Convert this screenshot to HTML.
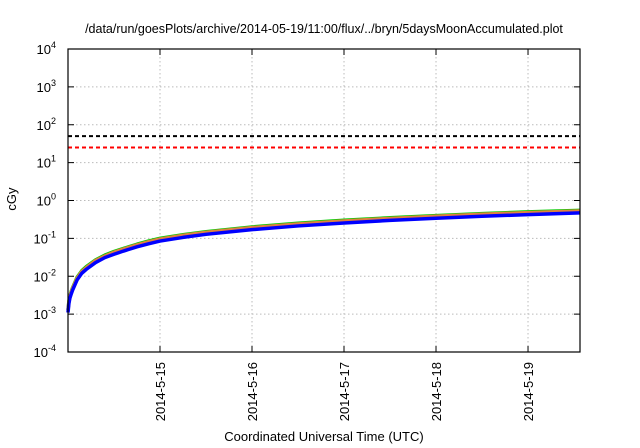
<!DOCTYPE html>
<html><head><meta charset="utf-8"><style>
body{margin:0;background:#fff;}
svg{display:block;font-family:"Liberation Sans",sans-serif;}
</style></head><body>
<svg id="chart" width="640" height="448" xmlns="http://www.w3.org/2000/svg">
<text x="324" y="33" font-size="12.5" text-anchor="middle">/data/run/goesPlots/archive/2014-05-19/11:00/flux/../bryn/5daysMoonAccumulated.plot</text>
<text transform="translate(16,199) rotate(-90)" font-size="13" text-anchor="middle">cGy</text>
<text x="324" y="441" font-size="13" text-anchor="middle">Coordinated Universal Time (UTC)</text>
<g id="grid"></g><g id="ticks"></g><g id="series"></g>
<rect x="68" y="49" width="512" height="303" fill="none" stroke="#000" stroke-width="1.2"/>
</svg>
<script>
const dayLabels=["2014-5-15","2014-5-16","2014-5-17","2014-5-18","2014-5-19"];
const dayPositions=[1,2,3,4,5];
const yExps=[-4,-3,-2,-1,0,1,2,3,4];
const times=[0,0.01,0.02,0.035,0.05,0.1,0.15,0.2,0.3,0.4,0.5,0.6,0.75,0.875,1,1.25,1.5,2,2.5,3,3.5,4,4.5,5,5.565];
const greenVals=[0.0013,0.0022,0.003,0.004,0.005,0.0095,0.014,0.018,0.027,0.036,0.045,0.054,0.07,0.085,0.1,0.125,0.15,0.2,0.25,0.3,0.35,0.4,0.45,0.5,0.55];
const orangeVals=[0.00125,0.0021,0.0029,0.0038,0.0048,0.009,0.0133,0.017,0.026,0.034,0.043,0.052,0.067,0.081,0.096,0.12,0.144,0.192,0.24,0.288,0.336,0.384,0.432,0.48,0.53];
const blueVals=[0.0011,0.0019,0.0026,0.0034,0.0043,0.0081,0.012,0.0153,0.023,0.031,0.038,0.046,0.06,0.072,0.085,0.106,0.128,0.17,0.213,0.255,0.298,0.34,0.383,0.425,0.47];
const thresholds=[50,25];
const X0=68,X1=580,Y0=49,Y1=352,TMAX=5.565;
const xs=t=>X0+(X1-X0)*t/TMAX;
const ys=v=>Y0+(4-Math.log10(v))*(Y1-Y0)/8;
const NS="http://www.w3.org/2000/svg";
function mk(tag,attrs,parent){const e=document.createElementNS(NS,tag);for(const k in attrs)e.setAttribute(k,attrs[k]);parent.appendChild(e);return e;}
const grid=document.getElementById('grid'),ticks=document.getElementById('ticks'),ser=document.getElementById('series');
yExps.forEach(p=>{const y=ys(Math.pow(10,p));
 if(p>-4&&p<4){const g=mk('line',{x1:X0,x2:X1,y1:y,y2:y,stroke:'#bbb','stroke-dasharray':'1.5,2.5','stroke-width':1},grid);
 
 }
 const t1=mk('line',{x1:X0,x2:X0+6,y1:y,y2:y,stroke:'#000'},ticks);
 
 
 const t2=mk('line',{x1:X1-6,x2:X1,y1:y,y2:y,stroke:'#000'},ticks);
 
 
 const tx=mk('text',{x:X0-12,y:y+5,'font-size':13,'text-anchor':'end'},ticks);
 
 
 tx.innerHTML='10<tspan dy="-6" font-size="9">'+p+'</tspan>';
});
dayPositions.forEach((d,i)=>{const x=xs(d);
 const g=mk('line',{x1:x,x2:x,y1:Y0,y2:Y1,stroke:'#bbb','stroke-dasharray':'1.5,2.5'},grid);
 
 
 const t=mk('line',{x1:x,x2:x,y1:Y1-6,y2:Y1,stroke:'#000'},ticks);
 
 
 const t2=mk('line',{x1:x,x2:x,y1:Y0,y2:Y0+6,stroke:'#000'},ticks);
 
 
 const tx=mk('text',{transform:`translate(${x+5},${Y1+10}) rotate(-90)`,'font-size':13,'text-anchor':'end'},ticks);
 
 
 tx.textContent=dayLabels[i];
});
const thrColors=['#000','#f00'];
thresholds.forEach((v,i)=>{const y=ys(v);
 const l=mk('line',{x1:X0,x2:X1,y1:y,y2:y,stroke:thrColors[i],'stroke-width':2,'stroke-dasharray':'4,3'},ser);
 
 
});
[[greenVals,'#0c0','green-series'],[orangeVals,'#e08040','orange-series'],[blueVals,'#00f','blue-series']].forEach(([vals,c,n])=>{
 const d=times.map((t,i)=>(i?'L':'M')+xs(t).toFixed(2)+','+ys(vals[i]).toFixed(2)).join('');
 const p=mk('path',{d:d,fill:'none',stroke:c,'stroke-width':3.5,'stroke-linejoin':'round'},ser);
 
 
});
</script>
</body></html>
